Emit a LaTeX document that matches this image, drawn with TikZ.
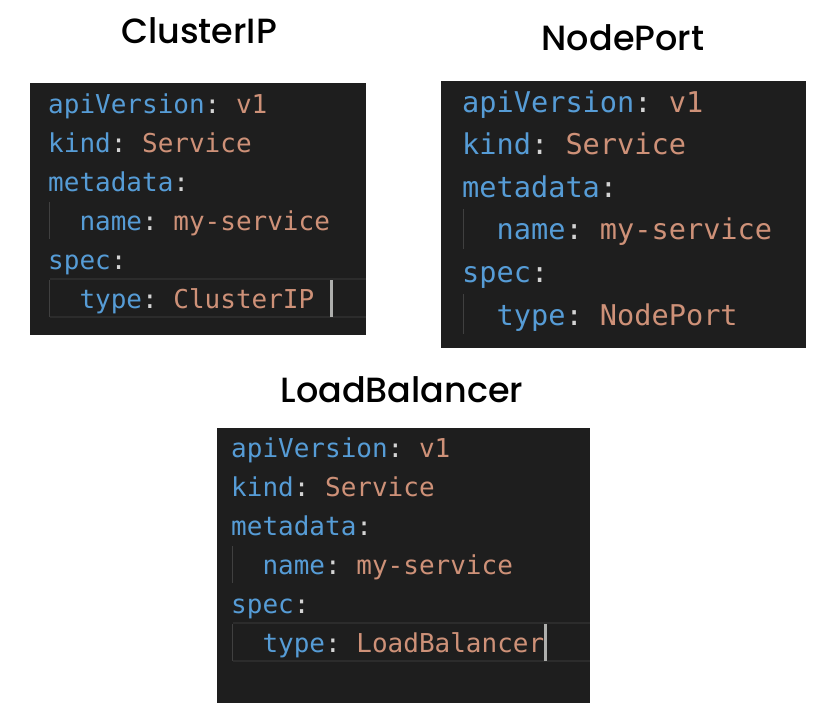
\documentclass[tikz,border=0pt]{standalone}
\usepackage{fontspec}
\setmainfont{Poppins}
\newfontfamily\titlefont{Poppins Medium}
\newfontfamily\codefont{DejaVu Sans Mono}
\usetikzlibrary{calc,positioning}
\definecolor{editorbg}{HTML}{1E1E1E}
\definecolor{keyblue}{HTML}{569CD6}
\definecolor{valorange}{HTML}{CE9178}
\definecolor{colongrey}{HTML}{D4D4D4}
\definecolor{guidegrey}{HTML}{404040}
\definecolor{linegrey}{HTML}{2C2C2C}
\definecolor{cursorgrey}{HTML}{AEAFAD}
\tikzstyle{editor}=[rectangle,fill=editorbg,draw=none,inner sep=0pt,anchor=north west]
\tikzstyle{code}=[inner sep=0pt,anchor=base west]
\tikzstyle{title}=[inner sep=0pt,anchor=base,font=\titlefont\fontsize{35}{35}\selectfont]
\tikzstyle{guide}=[draw=guidegrey,line width=1.5pt]
\tikzstyle{curline}=[draw=linegrey,line width=1.5pt]
\tikzstyle{cursor}=[draw=cursorgrey,line width=3pt]
\newcommand{\kw}[1]{\textcolor{keyblue}{#1}}
\newcommand{\cl}[1]{\textcolor{colongrey}{#1}}
\newcommand{\vl}[1]{\textcolor{valorange}{#1}}
% #1 prefix, #2 x, #3 first baseline, #4 line step, #5 font size, #6 type value
\newcommand{\drawyaml}[6]
{
  \node[code, font=\codefont\fontsize{#5}{#5}\selectfont\frenchspacing] (#1a) at (#2,#3) {\kw{apiVersion}\cl{:} \vl{v1}};
  \node[code, font=\codefont\fontsize{#5}{#5}\selectfont\frenchspacing] (#1b) at (#2,{#3+#4}) {\kw{kind}\cl{:} \vl{Service}};
  \node[code, font=\codefont\fontsize{#5}{#5}\selectfont\frenchspacing] (#1c) at (#2,{#3+2*#4}) {\kw{metadata}\cl{:}};
  \node[code, font=\codefont\fontsize{#5}{#5}\selectfont\frenchspacing] (#1d) at (#2,{#3+3*#4}) {\ \ \kw{name}\cl{:} \vl{my-service}};
  \node[code, font=\codefont\fontsize{#5}{#5}\selectfont\frenchspacing] (#1e) at (#2,{#3+4*#4}) {\kw{spec}\cl{:}};
  \node[code, font=\codefont\fontsize{#5}{#5}\selectfont\frenchspacing] (#1f) at (#2,{#3+5*#4}) {\ \ \kw{type}\cl{:} \vl{#6}};
  \draw[guide] ([xshift=1.5pt,yshift={0.72*#4}]#1d.base west) -- ([xshift=1.5pt,yshift={-0.22*#4}]#1d.base west);
  \draw[guide] ([xshift=1.5pt,yshift={0.72*#4}]#1f.base west) -- ([xshift=1.5pt,yshift={-0.22*#4}]#1f.base west);
}

\begin{document}
\begin{tikzpicture}[x=1pt,y=-1pt]
	\fill[white] (0,0) rectangle (838,707);
	\useasboundingbox (0,0) rectangle (838,707);

	\node[editor, minimum width=336pt, minimum height=252pt] (box1) at (30,83) {};
	\node[editor, minimum width=365pt, minimum height=267pt] (box2) at (441,81) {};
	\node[editor, minimum width=373pt, minimum height=275pt] (box3) at (217,428) {};

	\node[title] (cluster) at (199,43) {ClusterIP};
	\node[title] (nodeport) at (623,50) {NodePort};
	\node[title] (loadbal) at (402,402) {LoadBalancer};

	\drawyaml{c}{48}{113}{39}{26}{ClusterIP\ }
	\drawyaml{n}{462}{112}{42.6}{28.6}{NodePort}
	\drawyaml{l}{231}{457}{39}{26}{LoadBalancer}

	% current line borders
	\draw[curline] ([xshift=1.5pt,yshift=29pt]cf.base west) -- ([yshift=29pt]cf.base west -| box1.east);
	\draw[curline] ([xshift=1.5pt,yshift=-9pt]cf.base west) -- ([yshift=-9pt]cf.base west -| box1.east);
	\draw[curline] ([xshift=1.5pt,yshift=29pt]lf.base west) -- ([yshift=29pt]lf.base west -| box3.east);
	\draw[curline] ([xshift=1.5pt,yshift=-9pt]lf.base west) -- ([yshift=-9pt]lf.base west -| box3.east);

	\draw[cursor] ([xshift=1pt,yshift=28pt]cf.base east) -- ([xshift=1pt,yshift=-9pt]cf.base east);
	\draw[cursor] ([xshift=1pt,yshift=28pt]lf.base east) -- ([xshift=1pt,yshift=-9pt]lf.base east);
\end{tikzpicture}
\end{document}
